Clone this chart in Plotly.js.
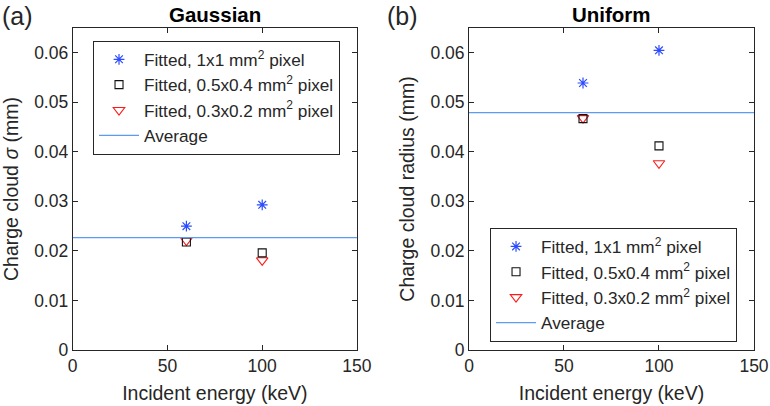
<!DOCTYPE html>
<html>
<head>
<meta charset="utf-8">
<script src="https://cdn.plot.ly/plotly-3.0.1.min.js"></script>
<style>
  html, body { margin: 0; padding: 0; background: #fff; }
  #chart { width: 770px; height: 406px; }
</style>
</head>
<body>
<div id="chart"></div>
<script>
// Energies (keV) shared by both panels
const energies = [60, 100];

// (a) Gaussian: charge cloud sigma (mm)
const gaussFit1x1 = [0.0250, 0.0293];
const gaussFit05x04 = [0.0218, 0.0196];
const gaussFit03x02 = [0.0221, 0.0181];
const gaussAverage = 0.0227;

// (b) Uniform: charge cloud radius (mm)
const unifFit1x1 = [0.0539, 0.0605];
const unifFit05x04 = [0.0467, 0.0412];
const unifFit03x02 = [0.0468, 0.0377];
const unifAverage = 0.0479;

const xRange = [0, 150];
const xTicks = [0, 50, 100, 150];
const yTicks = [0, 0.01, 0.02, 0.03, 0.04, 0.05, 0.06];
const yTickText = ['0', '0.01', '0.02', '0.03', '0.04', '0.05', '0.06'];

const seriesNames = [
    'Fitted, 1x1 mm<sup>2</sup> pixel',
    'Fitted, 0.5x0.4 mm<sup>2</sup> pixel',
    'Fitted, 0.3x0.2 mm<sup>2</sup> pixel',
    'Average'
];

const font = 'Liberation Sans, Arial, Helvetica, sans-serif';
const ink = '#262626';

function panelTraces(fit1, fit2, fit3, avg, xa, ya, legendId) {
    return [
        {
            x: energies, y: fit1, xaxis: xa, yaxis: ya, legend: legendId,
            type: 'scatter', mode: 'markers', name: seriesNames[0],
            legendrank: 1,
            marker: { symbol: 'asterisk-open', size: 9, color: '#2a4bff', line: { color: '#2a4bff', width: 1.2 } }
        },
        {
            x: energies, y: fit3, xaxis: xa, yaxis: ya, legend: legendId,
            type: 'scatter', mode: 'markers', name: seriesNames[2],
            legendrank: 3,
            marker: { symbol: 'triangle-down-open', size: 10, color: '#ff1a1a', line: { color: '#ff1a1a', width: 1.1 } }
        },
        {
            x: energies, y: fit2, xaxis: xa, yaxis: ya, legend: legendId,
            type: 'scatter', mode: 'markers', name: seriesNames[1],
            legendrank: 2,
            marker: { symbol: 'square-open', size: 8, color: '#111', line: { color: '#111', width: 1.1 } }
        },
        {
            x: xRange, y: [avg, avg], xaxis: xa, yaxis: ya, legend: legendId,
            type: 'scatter', mode: 'lines', name: seriesNames[3],
            legendrank: 4,
            line: { color: '#5b9cf2', width: 1.3 }
        }
    ];
}

const tracesA = panelTraces(gaussFit1x1, gaussFit05x04, gaussFit03x02, gaussAverage, 'x', 'y', 'legend');
const tracesB = panelTraces(unifFit1x1, unifFit05x04, unifFit03x02, unifAverage, 'x2', 'y2', 'legend2');

function xAxis(domain, anchor) {
    return {
        domain: domain, anchor: anchor, range: xRange,
        tickvals: xTicks, ticks: 'inside', ticklen: 5, tickcolor: ink,
        showline: true, linecolor: ink, linewidth: 1, mirror: 'ticks',
        showgrid: false, zeroline: false,
        tickfont: { family: font, size: 17.5, color: ink },
        title: { text: 'Incident energy (keV)', font: { family: font, size: 19.5, color: ink }, standoff: 11 }
    };
}

function yAxis(domain, anchor, title) {
    return {
        domain: domain, anchor: anchor, range: [0, 0.065],
        tickvals: yTicks, ticktext: yTickText, ticks: 'inside', ticklen: 5, tickcolor: ink,
        showline: true, linecolor: ink, linewidth: 1, mirror: 'ticks',
        showgrid: false, zeroline: false,
        tickfont: { family: font, size: 17.5, color: ink },
        title: { text: title, font: { family: font, size: 19.5, color: ink }, standoff: 10 }
    };
}

const legendStyle = {
    bgcolor: '#ffffff', bordercolor: ink, borderwidth: 1,
    font: { family: font, size: 17.2, color: ink },
    xanchor: 'left', yanchor: 'top', itemwidth: 40,
    traceorder: 'normal'
};

const yDomain = [0.138, 0.931];

const layout = {
    width: 770, height: 406,
    margin: { l: 0, r: 0, t: 0, b: 0 },
    paper_bgcolor: '#ffffff', plot_bgcolor: '#ffffff',
    showlegend: true,
    xaxis: xAxis([0.0944, 0.4636], 'y'),
    yaxis: yAxis(yDomain, 'x', 'Charge cloud <i>σ</i> (mm)'),
    xaxis2: xAxis([0.6091, 0.9792], 'y2'),
    yaxis2: yAxis(yDomain, 'x2', 'Charge cloud radius (mm)'),
    legend: Object.assign({}, legendStyle, { x: 0.1208, y: 0.900 }),
    legend2: Object.assign({}, legendStyle, { x: 0.6364, y: 0.439 }),
    annotations: [
        { text: '(a)', xref: 'paper', yref: 'paper', x: 0.0, y: 1.0, xanchor: 'left', yanchor: 'top',
          showarrow: false, font: { family: font, size: 25, color: ink } },
        { text: '(b)', xref: 'paper', yref: 'paper', x: 0.5, y: 1.0, xanchor: 'left', yanchor: 'top',
          showarrow: false, font: { family: font, size: 25, color: ink } },
        { text: '<b>Gaussian</b>', xref: 'paper', yref: 'paper', x: 0.279, y: 0.997, xanchor: 'center', yanchor: 'top',
          showarrow: false, font: { family: font, size: 20.5, color: '#000' } },
        { text: '<b>Uniform</b>', xref: 'paper', yref: 'paper', x: 0.794, y: 0.997, xanchor: 'center', yanchor: 'top',
          showarrow: false, font: { family: font, size: 20.5, color: '#000' } }
    ]
};

Plotly.newPlot('chart', tracesA.concat(tracesB), layout, { displayModeBar: false, staticPlot: true });
</script>
</body>
</html>
